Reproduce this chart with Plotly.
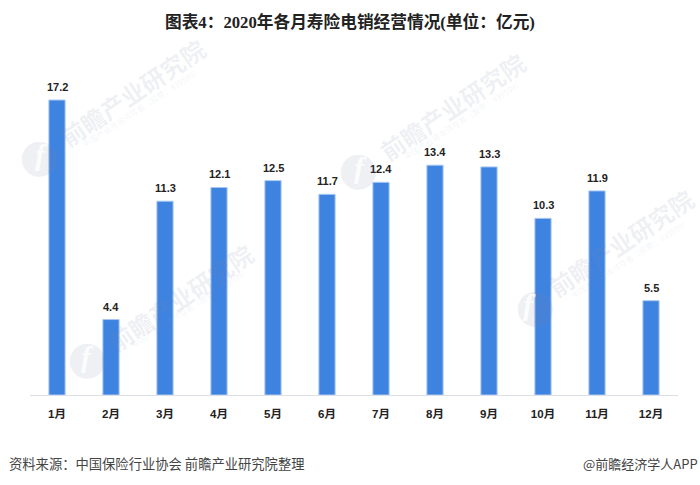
import plotly.graph_objects as go

# Data
months = ['1月', '2月', '3月', '4月', '5月', '6月', '7月', '8月', '9月', '10月', '11月', '12月']
premium = [17.2, 4.4, 11.3, 12.1, 12.5, 11.7, 12.4, 13.4, 13.3, 10.3, 11.9, 5.5]
value_labels = ['17.2', '4.4', '11.3', '12.1', '12.5', '11.7', '12.4', '13.4', '13.3', '10.3', '11.9', '5.5']

W, H = 700, 485
LEFT, RIGHT, TOP, BOTTOM = 30, 22, 52, 90
PW, PH = W - LEFT - RIGHT, H - TOP - BOTTOM
CJK = 'Noto Sans CJK SC'

fig = go.Figure()

fig.add_trace(go.Bar(
    x=months,
    y=premium,
    width=0.3,
    marker=dict(color='#3f83e0', line=dict(width=1, color='#a8c8f2')),
    showlegend=False
))

fig.update_layout(
    width=W,
    height=H,
    margin=dict(l=LEFT, r=RIGHT, t=TOP, b=BOTTOM),
    paper_bgcolor='white',
    plot_bgcolor='white',
    showlegend=False,
    font=dict(family=CJK)
)

fig.update_xaxes(
    type='category',
    showgrid=False,
    ticks='',
    showline=True,
    linecolor='#dcdfe6',
    linewidth=1,
    tickfont=dict(family='Liberation Sans, ' + CJK, size=11.5, color='#222222'),
    ticktext=['<b>%s</b>' % m for m in months],
    tickvals=months,
    ticklabelstandoff=8
)
fig.update_yaxes(range=[0, 20], visible=False, showgrid=False)


def px_x(x):
    return (x - LEFT) / PW


def px_y(y):
    return (H - BOTTOM - y) / PH


# Value labels sit a fixed distance above each bar
for month, value, label in zip(months, premium, value_labels):
    fig.add_annotation(
        text='<b>%s</b>' % label, x=month, y=value, yshift=13,
        xanchor='center', yanchor='middle', showarrow=False,
        font=dict(family='Liberation Sans, ' + CJK, size=11, color='#222222')
    )

# Title and footers
fig.add_annotation(
    text='<b>图表4：2020年各月寿险电销经营情况(单位：亿元)</b>',
    xref='paper', yref='paper', x=px_x(350), y=px_y(22),
    xanchor='center', yanchor='middle', showarrow=False,
    font=dict(family='Liberation Serif, ' + CJK, size=16.7, color='#222222')
)
fig.add_annotation(
    text='资料来源：中国保险行业协会 前瞻产业研究院整理',
    xref='paper', yref='paper', x=px_x(7), y=px_y(464),
    xanchor='left', yanchor='middle', showarrow=False,
    font=dict(family=CJK, size=13.3, color='#444444')
)
fig.add_annotation(
    text='@前瞻经济学人APP',
    xref='paper', yref='paper', x=px_x(700), y=px_y(464),
    xanchor='right', yanchor='middle', showarrow=False,
    font=dict(family=CJK, size=13, color='#444444')
)

# Watermarks: logo centre, text centre, small text centre, swoosh offset, in picture pixels
wm_color = 'rgba(120,135,160,0.13)'
wm_small = 'rgba(120,135,160,0.10)'
watermarks = [
    ((39, 155), (132, 92), (141, 107), 2),
    ((358, 168), (452, 106), (463, 119), 2),
    ((87, 357), (180, 297), (190, 307), 0),
    ((535, 305), (621, 243), (630, 258), -6),
]
for logo, main, small, swoosh in watermarks:
    fig.add_annotation(
        text='●', xref='paper', yref='paper', x=px_x(logo[0]), y=px_y(logo[1]),
        xanchor='center', yanchor='middle', showarrow=False,
        font=dict(family='DejaVu Sans', size=46, color=wm_color)
    )
    fig.add_annotation(
        text='<b><i>f</i></b>', xref='paper', yref='paper', x=px_x(logo[0] + swoosh), y=px_y(logo[1] - 1),
        xanchor='center', yanchor='middle', showarrow=False,
        font=dict(family='Liberation Serif', size=30, color='rgba(255,255,255,0.85)')
    )
    fig.add_annotation(
        text='<b>前瞻产业研究院</b>', xref='paper', yref='paper', x=px_x(main[0]), y=px_y(main[1]),
        xanchor='center', yanchor='middle', showarrow=False, textangle=-34,
        font=dict(family=CJK, size=24, color=wm_color)
    )
    fig.add_annotation(
        text='中国产业咨询领导者（股票：839599）', xref='paper', yref='paper',
        x=px_x(small[0]), y=px_y(small[1]),
        xanchor='center', yanchor='middle', showarrow=False, textangle=-33,
        font=dict(family=CJK, size=8, color=wm_small)
    )

# Drop the default page margin so the figure sits at the window's corner
fig.write_html('out.html', config={'displayModeBar': False},
               post_script="document.body.style.margin='0';")
